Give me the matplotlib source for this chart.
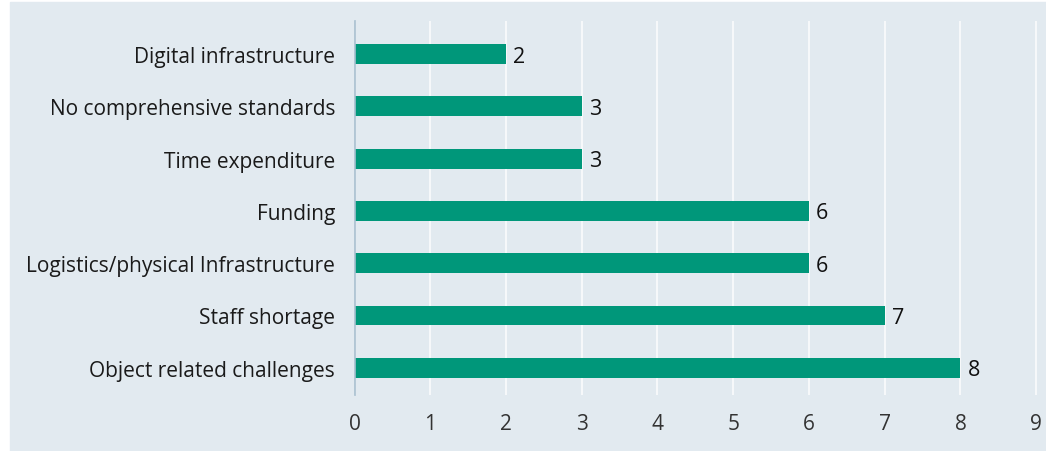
import matplotlib.pyplot as plt
from matplotlib.patches import Rectangle

categories = ['Object related challenges', 'Staff shortage', 'Logistics/physical Infrastructure',
              'Funding', 'Time expenditure', 'No comprehensive standards', 'Digital infrastructure']
values = [8, 7, 6, 6, 3, 3, 2]
xticks = [0, 1, 2, 3, 4, 5, 6, 7, 8, 9]

plt.rcParams['font.family'] = ['Open Sans', 'DejaVu Sans']

bg = '#E2EAF0'
green = '#00977A'

fig = plt.figure(figsize=(10.46, 4.52), dpi=100)
fig.add_artist(Rectangle((10 / 1046, 0), 1 - 10 / 1046, 449 / 452,
                         transform=fig.transFigure, color=bg, zorder=-5))

ax = fig.add_axes([354.5 / 1046, 1 - 396 / 452, 684 / 1046, 374 / 452])
ax.patch.set_alpha(0)

ypos = range(len(categories))
ax.barh(ypos, values, height=0.38, color=green, zorder=3)
for y, v in zip(ypos, values):
    ax.annotate(str(v), (v, y), xytext=(5, -1.5), textcoords='offset points',
                va='center', ha='left', fontsize=15.5, color='#111111')

ax.set_xlim(0, 9.03)
ax.set_ylim(-0.52, 6.63)
ax.set_xticks(xticks)
ax.set_xticklabels([str(t) for t in xticks], fontsize=15, color='#333333')
ax.set_yticks(list(ypos))
ax.set_yticklabels(categories, fontsize=15, color='#1a1a1a')
ax.tick_params(axis='x', length=0, pad=13)
ax.tick_params(axis='y', length=0, pad=14)
ax.grid(axis='x', color='#F7F9FB', linewidth=1.4, zorder=1)
ax.set_axisbelow(True)
for s in ['top', 'right', 'bottom']:
    ax.spines[s].set_visible(False)
ax.spines['left'].set_color('#A8BFCF')
ax.spines['left'].set_linewidth(1.2)
ax.spines['left'].set_zorder(4)

fig.savefig('out.png', dpi=100)
